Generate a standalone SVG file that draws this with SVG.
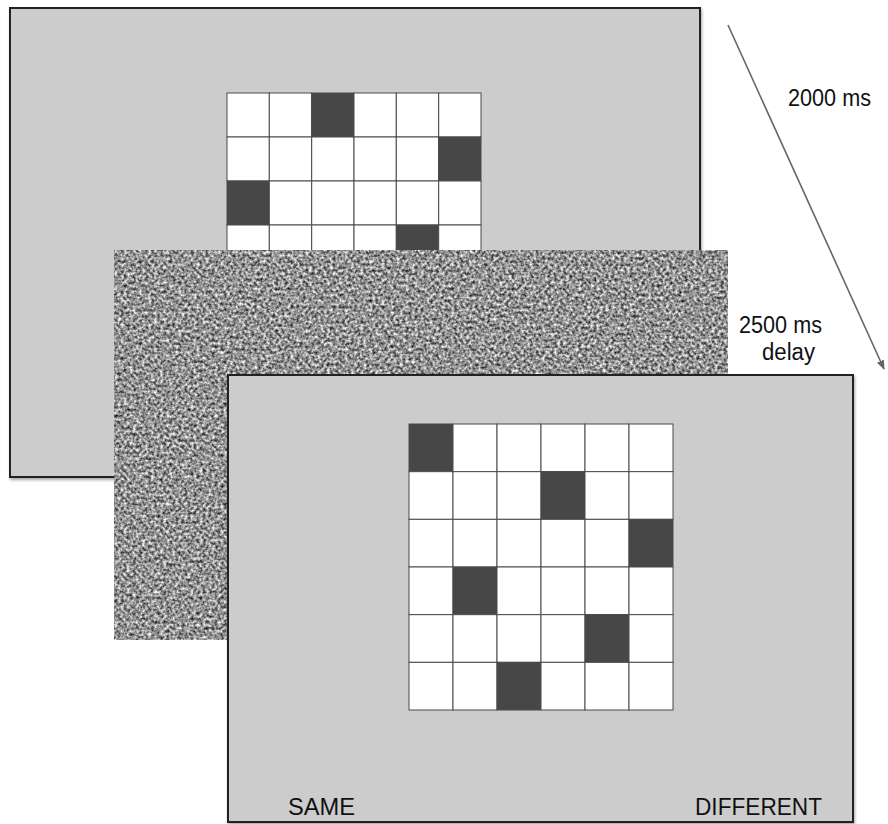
<svg xmlns="http://www.w3.org/2000/svg" width="888" height="824" viewBox="0 0 888 824">
<style>
.panel{fill:#cccccc;stroke:#222;stroke-width:2}
.cell{fill:#ffffff;stroke:#4a4a4a;stroke-width:1}
.dark{fill:#474747;stroke:#4a4a4a;stroke-width:1}
.lbl{font-family:"Liberation Sans",Arial,sans-serif;font-size:24px;fill:#111}
.lbl2{font-family:"Liberation Sans",Arial,sans-serif;font-size:23px;fill:#111}
</style>
<defs>
<filter id="noise" x="0" y="0" width="1" height="1" filterUnits="objectBoundingBox" color-interpolation-filters="sRGB">
<feTurbulence type="fractalNoise" baseFrequency="0.33" numOctaves="2" seed="7" result="t"/>
<feColorMatrix in="t" type="matrix" values="1.35 0 0 0 -0.1  1.35 0 0 0 -0.1  1.35 0 0 0 -0.1  0 0 0 0 1"/>
</filter>
<filter id="sh" x="-5%" y="-5%" width="110%" height="110%">
<feGaussianBlur in="SourceAlpha" stdDeviation="1.5"/>
<feOffset dx="1" dy="2" result="b"/>
<feComponentTransfer><feFuncA type="linear" slope="0.35"/></feComponentTransfer>
<feMerge><feMergeNode/><feMergeNode in="SourceGraphic"/></feMerge>
</filter>
<marker id="ah" viewBox="0 0 10 10" refX="9" refY="5" markerWidth="6" markerHeight="6" orient="auto" markerUnits="strokeWidth">
<path d="M0,1 L10,5 L0,9 z" fill="#666"/>
</marker>
</defs>
<g id="panel1">
<rect class="panel" x="10" y="8" width="690" height="469" filter="url(#sh)"/>
<g id="grid1">
<rect class="cell" x="227" y="93" width="42.3" height="44"/><rect class="cell" x="269.3" y="93" width="42.3" height="44"/><rect class="dark" x="311.7" y="93" width="42.3" height="44"/><rect class="cell" x="354" y="93" width="42.3" height="44"/><rect class="cell" x="396.3" y="93" width="42.3" height="44"/><rect class="cell" x="438.7" y="93" width="42.3" height="44"/>
<rect class="cell" x="227" y="137" width="42.3" height="44"/><rect class="cell" x="269.3" y="137" width="42.3" height="44"/><rect class="cell" x="311.7" y="137" width="42.3" height="44"/><rect class="cell" x="354" y="137" width="42.3" height="44"/><rect class="cell" x="396.3" y="137" width="42.3" height="44"/><rect class="dark" x="438.7" y="137" width="42.3" height="44"/>
<rect class="dark" x="227" y="181" width="42.3" height="44"/><rect class="cell" x="269.3" y="181" width="42.3" height="44"/><rect class="cell" x="311.7" y="181" width="42.3" height="44"/><rect class="cell" x="354" y="181" width="42.3" height="44"/><rect class="cell" x="396.3" y="181" width="42.3" height="44"/><rect class="cell" x="438.7" y="181" width="42.3" height="44"/>
<rect class="cell" x="227" y="225" width="42.3" height="44"/><rect class="cell" x="269.3" y="225" width="42.3" height="44"/><rect class="cell" x="311.7" y="225" width="42.3" height="44"/><rect class="cell" x="354" y="225" width="42.3" height="44"/><rect class="dark" x="396.3" y="225" width="42.3" height="44"/><rect class="cell" x="438.7" y="225" width="42.3" height="44"/>
</g>
</g>
<g id="mask">
<rect x="114" y="250" width="614" height="390" fill="#888" filter="url(#noise)"/>
</g>
<g id="panel2">
<rect class="panel" x="228" y="375" width="625" height="447" filter="url(#sh)"/>
<g id="grid2">
<rect class="dark" x="409" y="424" width="44" height="47.67"/><rect class="cell" x="453" y="424" width="44" height="47.67"/><rect class="cell" x="497" y="424" width="44" height="47.67"/><rect class="cell" x="541" y="424" width="44" height="47.67"/><rect class="cell" x="585" y="424" width="44" height="47.67"/><rect class="cell" x="629" y="424" width="44" height="47.67"/>
<rect class="cell" x="409" y="471.67" width="44" height="47.67"/><rect class="cell" x="453" y="471.67" width="44" height="47.67"/><rect class="cell" x="497" y="471.67" width="44" height="47.67"/><rect class="dark" x="541" y="471.67" width="44" height="47.67"/><rect class="cell" x="585" y="471.67" width="44" height="47.67"/><rect class="cell" x="629" y="471.67" width="44" height="47.67"/>
<rect class="cell" x="409" y="519.33" width="44" height="47.67"/><rect class="cell" x="453" y="519.33" width="44" height="47.67"/><rect class="cell" x="497" y="519.33" width="44" height="47.67"/><rect class="cell" x="541" y="519.33" width="44" height="47.67"/><rect class="cell" x="585" y="519.33" width="44" height="47.67"/><rect class="dark" x="629" y="519.33" width="44" height="47.67"/>
<rect class="cell" x="409" y="567" width="44" height="47.67"/><rect class="dark" x="453" y="567" width="44" height="47.67"/><rect class="cell" x="497" y="567" width="44" height="47.67"/><rect class="cell" x="541" y="567" width="44" height="47.67"/><rect class="cell" x="585" y="567" width="44" height="47.67"/><rect class="cell" x="629" y="567" width="44" height="47.67"/>
<rect class="cell" x="409" y="614.67" width="44" height="47.67"/><rect class="cell" x="453" y="614.67" width="44" height="47.67"/><rect class="cell" x="497" y="614.67" width="44" height="47.67"/><rect class="cell" x="541" y="614.67" width="44" height="47.67"/><rect class="dark" x="585" y="614.67" width="44" height="47.67"/><rect class="cell" x="629" y="614.67" width="44" height="47.67"/>
<rect class="cell" x="409" y="662.33" width="44" height="47.67"/><rect class="cell" x="453" y="662.33" width="44" height="47.67"/><rect class="dark" x="497" y="662.33" width="44" height="47.67"/><rect class="cell" x="541" y="662.33" width="44" height="47.67"/><rect class="cell" x="585" y="662.33" width="44" height="47.67"/><rect class="cell" x="629" y="662.33" width="44" height="47.67"/>
</g>
<text class="lbl" x="288" y="815" textLength="67" lengthAdjust="spacingAndGlyphs">SAME</text>
<text class="lbl" x="695" y="815" textLength="127" lengthAdjust="spacingAndGlyphs">DIFFERENT</text>
</g>
<g id="connectors">
<line x1="728" y1="25" x2="884" y2="369" stroke="#666" stroke-width="1.6" marker-end="url(#ah)"/>
</g>
<g id="labels">
<text class="lbl" x="788" y="106" textLength="83" lengthAdjust="spacingAndGlyphs">2000 ms</text>
<text class="lbl2" x="739" y="333" textLength="83" lengthAdjust="spacingAndGlyphs">2500 ms</text>
<text class="lbl2" x="762" y="360" textLength="53" lengthAdjust="spacingAndGlyphs">delay</text>
</g>
</svg>
